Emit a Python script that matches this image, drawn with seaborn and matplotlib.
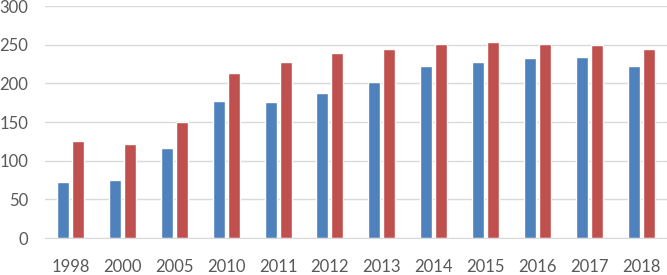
import pandas as pd
import numpy as np
import matplotlib
matplotlib.use("Agg")
import matplotlib.pyplot as plt
import seaborn as sns

years = ['1998', '2000', '2005', '2010', '2011', '2012', '2013', '2014', '2015', '2016', '2017', '2018']
blue_vals = [72, 75, 116, 177, 176, 188, 202, 222, 228, 233, 234, 222]
red_vals = [126, 121, 150, 214, 228, 239, 244, 251, 254, 251, 250, 244]

df = pd.DataFrame({
    'year': years * 2,
    'value': blue_vals + red_vals,
    'series': ['A'] * len(years) + ['B'] * len(years),
})

sns.set_style("white")
plt.rcParams['font.family'] = ['Lato', 'DejaVu Sans']

fig = plt.figure(figsize=(6.67, 2.75), dpi=100)
ax = fig.add_axes([0.067, 0.1345, 0.933, 0.8435])

sns.barplot(data=df, x='year', y='value', hue='series', order=years,
            palette=['#4F81BD', '#C0504D'], width=0.58, gap=0.2,
            saturation=1, legend=False, ax=ax)

ax.set_ylim(0, 300)
ax.set_xlim(-0.5, len(years) - 0.5)
ax.set_yticks(np.arange(0, 301, 50))
ax.yaxis.grid(True, color='#D9D9D9', linewidth=1)
ax.set_axisbelow(True)
for s in ['top', 'right', 'left']:
    ax.spines[s].set_visible(False)
ax.spines['bottom'].set_color('#D9D9D9')
ax.tick_params(axis='both', length=0, labelsize=12, labelcolor='#595959')
ax.tick_params(axis='x', pad=15)
ax.tick_params(axis='y', pad=12)
ax.set_xlabel('')
ax.set_ylabel('')

fig.savefig('out.png', dpi=100)
